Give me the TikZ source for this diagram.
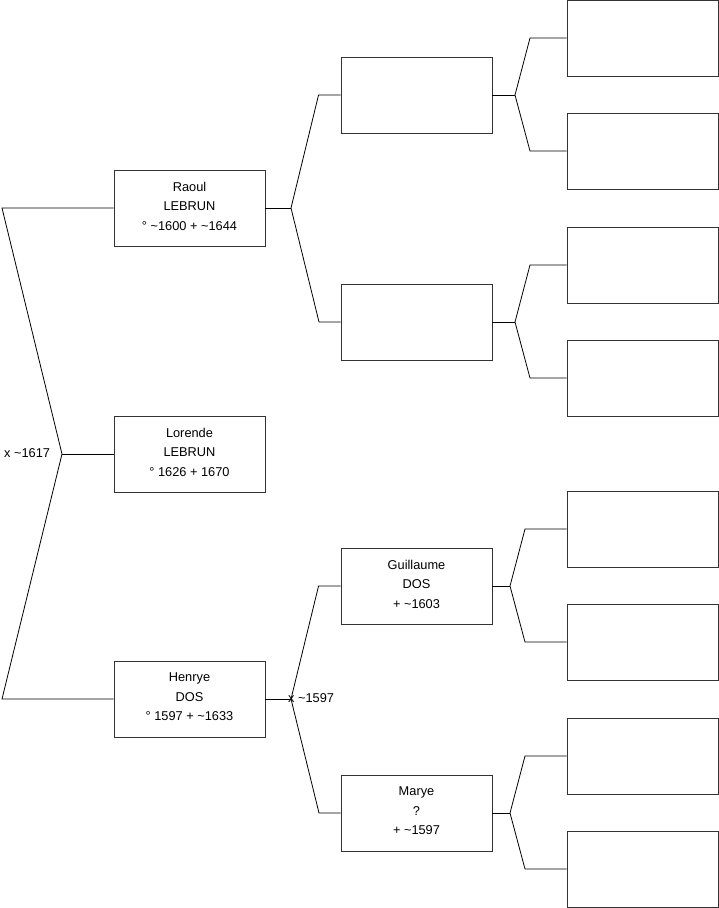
\documentclass[tikz,border=0pt]{standalone}
\usepackage{fontspec}
\setmainfont{Liberation Sans}
\begin{document}
\begin{tikzpicture}[x=1pt,y=-1pt,
  person/.style={draw=black!80,line width=0.9pt,minimum width=151pt,minimum height=76pt,inner sep=0pt},
  ptext/.style={inner sep=0pt,align=center,font=\fontsize{12.8}{19.5}\selectfont},
  lbl/.style={inner sep=0pt,font=\fontsize{12.8}{14}\selectfont},
  conn/.style={draw=black,line width=0.8pt}]
\useasboundingbox (0,0) rectangle (719,908);
% generation 1
\node[person] (raoul) at (189.5,208) {};
\node[person] (lorende) at (189.5,454) {};
\node[person] (henrye) at (189.5,699) {};
\node[ptext] (raoul-t) at ([yshift=2pt]raoul.center) {Raoul\\LEBRUN\\° \textasciitilde1600 + \textasciitilde1644};
\node[ptext] (lorende-t) at ([yshift=2pt]lorende.center) {Lorende\\LEBRUN\\° 1626 + 1670};
\node[ptext] (henrye-t) at ([yshift=2pt]henrye.center) {Henrye\\DOS\\° 1597 + \textasciitilde1633};
% generation 2
\node[person] (f1) at (416.5,95) {};
\node[person] (m1) at (416.5,322) {};
\node[person] (guil) at (416.5,586) {};
\node[person] (marye) at (416.5,813) {};
\node[ptext] (guil-t) at ([yshift=2pt]guil.center) {Guillaume\\DOS\\+ \textasciitilde1603};
\node[ptext] (marye-t) at ([yshift=2pt]marye.center) {Marye\\?\\+ \textasciitilde1597};
% generation 3
\node[person] (g1) at (642.5,38) {};
\node[person] (g2) at (642.5,151) {};
\node[person] (g3) at (642.5,265) {};
\node[person] (g4) at (642.5,378) {};
\node[person] (g5) at (642.5,529) {};
\node[person] (g6) at (642.5,642) {};
\node[person] (g7) at (642.5,756) {};
\node[person] (g8) at (642.5,869) {};
% coordinates
\coordinate (a1) at (2,208);
\coordinate (a2) at (2,699);
\coordinate (v0) at (62,454);
\coordinate (vr) at (291,208);
\coordinate (vh) at (291,699);
\coordinate (v1) at (515,95);
\coordinate (v2) at (515,322);
\coordinate (v3) at (510,586);
\coordinate (v4) at (510,813);
% labels
\node[lbl,anchor=west] (l1617) at (4,453) {x \textasciitilde1617};
\node[lbl,anchor=west] (l1597) at (288,698) {x \textasciitilde1597};
% connectors gen1
\draw[conn] (raoul.west) -- (a1) -- (v0) -- (a2) -- (henrye.west);
\draw[conn] (v0) -- (lorende.west);
% raoul parents
\draw[conn] (raoul.east) -- (vr);
\draw[conn] (f1.west) -- ++(-22,0) -- (vr) -- (319,322) -- (m1.west);
% henrye parents
\draw[conn] (henrye.east) -- (vh);
\draw[conn] (guil.west) -- ++(-22,0) -- (vh) -- (319,813) -- (marye.west);
% gen2 -> gen3
\draw[conn] (f1.east) -- (v1);
\draw[conn] (g1.west) -- (530,38) -- (v1) -- (530,151) -- (g2.west);
\draw[conn] (m1.east) -- (v2);
\draw[conn] (g3.west) -- (530,265) -- (v2) -- (530,378) -- (g4.west);
\draw[conn] (guil.east) -- (v3);
\draw[conn] (g5.west) -- (525,529) -- (v3) -- (525,642) -- (g6.west);
\draw[conn] (marye.east) -- (v4);
\draw[conn] (g7.west) -- (525,756) -- (v4) -- (525,869) -- (g8.west);
\end{tikzpicture}
\end{document}
